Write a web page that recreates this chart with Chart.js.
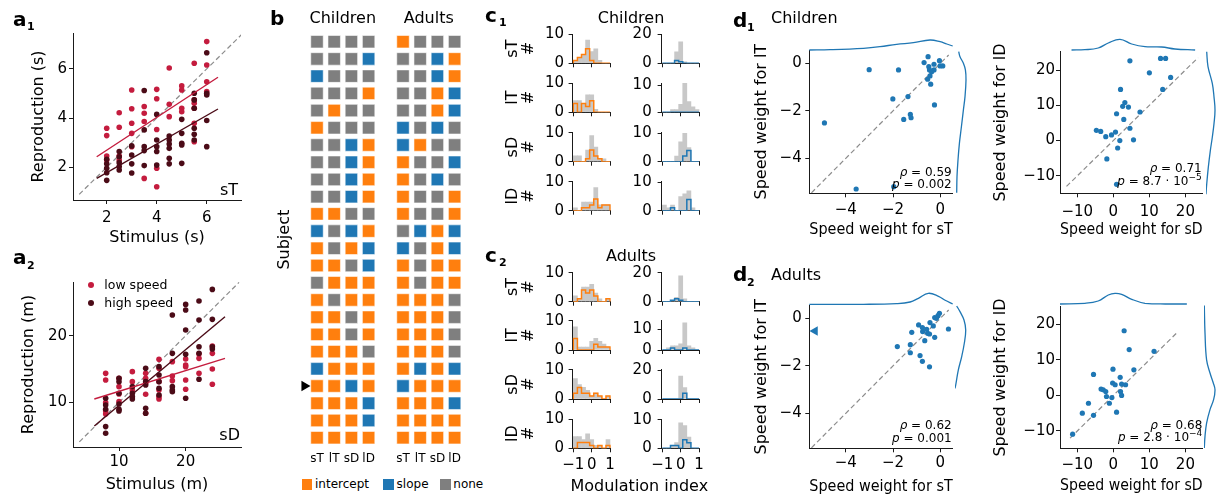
<!DOCTYPE html>
<html>
<head>
<meta charset="utf-8">
<script src="https://cdn.jsdelivr.net/npm/chart.js@4.4.1/dist/chart.umd.min.js"></script>
<style>
  html, body { margin: 0; padding: 0; background: #fff; }
  body { position: relative; width: 1225px; height: 496px; overflow: hidden; font-family: "DejaVu Sans", sans-serif; }
  canvas { position: absolute; }
  .t { position: absolute; white-space: nowrap; line-height: 1; color: #000; }
  .sw { position: absolute; }
  sup { font-size: 9px; vertical-align: 5px; line-height: 0; }
</style>
</head>
<body>
<script>
// ---------- data ----------

// a1: duration (sT), one list of reproductions per stimulus
const a1Stimulus = [2, 2.5, 3, 3.5, 4, 4.5, 5, 5.5, 6];
const a1LowSpeed = [
  [3.59, 3.29, 2.46, 2.30],
  [4.22, 3.63, 2.46, 2.30],
  [5.14, 4.38, 3.79, 3.38, 2.84],
  [4.47, 4.20, 3.86, 1.55],
  [5.17, 4.79, 3.54, 1.96, 1.21],
  [6.04, 4.56, 4.06],
  [5.31, 5.14, 4.40, 4.26],
  [6.23, 4.74, 4.60, 4.40, 3.79, 3.04],
  [7.11, 6.16, 5.48, 5.08]
];
const a1HighSpeed = [
  [2.33, 2.14, 1.96, 1.78, 1.47],
  [2.64, 2.43, 2.19, 2.03, 1.89],
  [2.87, 2.50, 2.14, 1.77],
  [5.12, 3.52, 2.84, 2.68, 2.07],
  [4.15, 3.11, 2.84, 2.64, 2.09],
  [3.27, 3.11, 2.95, 2.77, 2.37, 2.14],
  [3.95, 3.38, 2.98, 2.91, 2.16],
  [5.01, 4.74, 4.40, 3.59, 3.34, 3.11],
  [6.66, 5.01, 4.94, 3.90, 2.84]
];
const a1FitLow = [[1.6, 2.43], [6.45, 5.66]];
const a1FitHigh = [[1.6, 1.55], [6.45, 4.37]];
const a1Identity = [0.9, 7.4];
const a1Ticks = [2, 4, 6];

// a2: distance (sD)
const a2Stimulus = [8, 10, 12, 14, 16, 18, 20, 22, 24];
const a2LowSpeed = [
  [14.35, 13.35, 9.95, 8.70, 8.25],
  [13.60, 12.35, 11.25, 10.10],
  [14.60, 13.10, 11.85],
  [14.35, 13.60, 12.85, 11.20, 8.35],
  [16.45, 15.10, 13.10, 11.85, 10.85, 10.50],
  [16.10, 13.95, 13.25],
  [16.50, 15.60, 15.35, 13.35, 11.95],
  [17.25, 16.60, 14.35],
  [18.45, 17.35, 15.00, 12.70]
];
const a2HighSpeed = [
  [10.60, 9.60, 8.95, 6.35, 5.35],
  [13.60, 13.10, 11.35, 9.75, 8.95, 8.70],
  [12.35, 11.35, 10.85, 10.50],
  [15.10, 13.10, 12.60, 9.10, 8.35],
  [15.35, 14.10, 13.10, 12.10, 11.10],
  [23.10, 17.35, 12.35, 11.85, 11.60],
  [24.70, 23.85, 20.85, 17.20, 10.60],
  [25.20, 22.35, 18.35, 17.35, 13.45],
  [26.95, 22.45, 18.35, 18.00]
];
const a2FitLow = [[6.3, 10.5], [25.9, 16.6]];
const a2FitHigh = [[6.3, 6.45], [25.9, 22.85]];
const a2Identity = [4.05, 28];
const a2Ticks = [10, 20];

// b: significant term per subject (I = intercept, S = slope, N = none), columns sT lT sD lD
const fitTerms = ['sT', 'lT', 'sD', 'lD'];
const groupNames = ['Children', 'Adults'];
const subjectsChildren = ['NNNN', 'NNNS', 'SNNN', 'NNNI', 'NINN', 'INNN', 'NNSI', 'NNSI', 'NNSI', 'NNSI',
  'IINN', 'SNSI', 'INIS', 'IINS', 'NIII', 'INII', 'IINI', 'IINI', 'IIIN', 'SIII', 'IISI', 'IIIS', 'IIIS', 'IIII'];
const subjectsAdults = ['INNN', 'NNSI', 'NNSI', 'NNIS', 'NNIS', 'SNSN', 'SINN', 'INNS', 'INSN', 'INNI',
  'INNI', 'NSIS', 'SNIS', 'INII', 'INII', 'IIIN', 'IIIN', 'IIIN', 'IIIN', 'ISIS', 'SIII', 'IIIS', 'IIII', 'IIII'];
const termKinds = ['I', 'S', 'N'];
const termNames = { I: 'intercept', S: 'slope', N: 'none' };
const highlightedSubject = 20;

// c: modulation-index histograms, 9 bins on [-1, 1], rows sT lT sD lD
const binEdges = [-1, -0.778, -0.556, -0.333, -0.111, 0.111, 0.333, 0.556, 0.778, 1];
const childInterceptAll = [[1, 2, 3, 8, 4, 5, 1, 0, 0], [4, 4, 3, 6, 6, 1, 0, 0, 0], [2, 2, 0, 4, 9, 5, 1, 1, 0], [1, 0, 3, 3, 3, 8, 2, 2, 2]];
const childInterceptSig = [[1, 2, 3, 5, 1, 0, 0, 0, 0], [3, 0, 3, 2, 4, 0, 0, 0, 0], [0, 0, 0, 1, 4, 2, 1, 0, 0], [0, 0, 1, 1, 2, 4, 1, 2, 2]];
const childSlopeAll = [[0, 0, 0, 8, 15, 1, 0, 0, 0], [0, 0, 1, 1, 3, 12, 4, 2, 1], [0, 0, 0, 2, 7, 10, 5, 0, 0], [2, 1, 2, 0, 5, 6, 7, 1, 0]];
const childSlopeSig = [[0, 0, 0, 2, 1, 0, 0, 0, 0], [0, 0, 0, 0, 0, 0, 0, 0, 0], [0, 0, 0, 0, 0, 2, 4, 0, 0], [0, 0, 1, 0, 0, 0, 4, 0, 0]];
const adultInterceptAll = [[2, 1, 5, 5, 6, 3, 1, 0, 1], [8, 1, 1, 1, 3, 4, 3, 2, 1], [7, 5, 4, 3, 1, 2, 1, 0, 1], [4, 4, 3, 5, 3, 1, 1, 0, 3]];
const adultInterceptSig = [[0, 1, 4, 3, 4, 2, 0, 0, 1], [4, 0, 0, 0, 0, 2, 1, 1, 1], [2, 4, 2, 2, 1, 2, 1, 0, 1], [0, 2, 2, 2, 1, 0, 1, 0, 1]];
const adultSlopeAll = [[0, 0, 1, 3, 18, 2, 0, 0, 0], [0, 1, 2, 2, 3, 13, 2, 1, 0], [0, 0, 0, 0, 16, 8, 0, 0, 0], [0, 0, 1, 2, 9, 8, 4, 0, 0]];
const adultSlopeSig = [[0, 0, 1, 2, 1, 0, 0, 0, 0], [0, 0, 1, 0, 0, 1, 0, 0, 0], [0, 0, 0, 0, 0, 4, 0, 0, 0], [0, 0, 1, 1, 0, 3, 2, 0, 0]];
const histTicks = [-1, 0, 1];
const interceptYMax = 10.1;
const childSlopeYMax = [20.4, 10.9, 10.35, 10.35];
const adultSlopeYMax = [20.4, 14, 20.4, 10.35];
const childSlopeYTicks = [[0, 20], [0, 10], [0, 10], [0, 10]];
const adultSlopeYTicks = [[0, 20], [0, 10], [0, 20], [0, 10]];

// d: speed weights per subject
const dChildST = [-0.52, -0.69, -0.49, -0.46, -0.27, -0.04, -0.01, 0.10, -0.27, -0.37, -0.44, -0.54, -0.41,
  -3.01, -1.77, -2.01, -1.37, -1.27, -1.24, -1.55, -0.25, -4.90, -3.56, -1.97];
const dChildLT = [0.28, 0.03, -0.14, -0.28, -0.04, 0.11, -0.11, -0.11, -0.28, -0.35, -0.53, -0.67, -0.88,
  -0.27, -0.28, -1.50, -1.40, -2.15, -2.29, -2.36, -1.75, -2.51, -5.29, -5.19];
const dChildSD = [4.6, 13.1, 14.5, 10.0, 15.9, 13.7, 2.0, 3.2, 2.6, 4.2, 0.9, 7.4, 2.9, -4.7, -3.5, -2.1, -0.5, 0.6, 4.6, 1.8, 5.6, 1.2, -1.8, 0.9];
const dChildLD = [22.6, 23.3, 23.3, 19.2, 17.9, 14.5, 14.5, 10.8, 9.7, 9.5, 7.6, 8.1, 6.0, 2.9, 2.6, 1.1, 1.6, 2.4, 3.5, 0.0, 0.2, -2.1, -5.2, -12.4];
const dAdultST = [-0.04, -0.10, -0.24, -0.17, -0.44, -0.30, -0.92, -0.76, -0.75, -0.58, -0.54, -0.46, -1.21, -0.66, -0.24, 0.34,
  -1.82, -1.27, -1.27, -0.86, -0.76, -0.46];
const dAdultLT = [0.21, 0.11, 0.03, 0.00, -0.18, -0.32, -0.28, -0.39, -0.56, -0.46, -0.63, -0.66, -0.59, -0.94, -0.80, -0.45,
  -1.19, -1.11, -1.45, -1.57, -1.81, -2.04];
const dAdultOutlier = [-5.3, -0.53];
const dAdultSD = [3.0, 4.4, 11.3, -0.1, 5.7, -5.5, 1.9, -0.2, 0.5, 2.3, 3.4, -3.4, -2.8, -2.1, -1.9, 2.0, 2.3, -0.4, -6.9, -1.1, -8.6, -5.5, 0.9, -11.3];
const dAdultLD = [18.2, 12.9, 12.4, 7.4, 7.2, 5.9, 5.1, 3.5, 3.0, 3.2, 3.0, 1.8, 1.6, 1.1, -0.3, 1.1, 0.0, -0.6, -2.2, -2.2, -5.0, -5.6, -4.7, -10.9];
const timeTicks = [-4, -2, 0];
const distTicks = [-10, 0, 10, 20];

// marginal density curves (value, density)
const kdeChildSTx = [-5.54, -4.66, -3.25, -2.55, -1.85, -1.14, -0.44, -0.01, 0.27, 0.52];
const kdeChildSTd = [0, 0.3, 1.7, 3.3, 5.7, 7.3, 10, 8.3, 6, 4];
const kdeChildLTy = [0.49, 0.28, 0, -0.28, -0.7, -1.4, -1.96, -2.67, -3.37, -4.07, -4.77, -5.45];
const kdeChildLTd = [2, 3.3, 6.7, 8.7, 9.3, 8.3, 6.7, 4.7, 2.7, 1.3, 0.3, 0];
const kdeChildSDx = [-11.6, -7.9, -4.2, -1.4, 1.85, 5.1, 8.8, 13.4, 17.1, 22.7];
const kdeChildSDd = [0, 0.3, 2, 7, 10.7, 6, 3.3, 3, 1, 0];
const kdeChildLDy = [25.2, 21, 16.2, 12.4, 8.6, 4.8, 0.95, -2.9, -7.6, -12.4, -15.2];
const kdeChildLDd = [0.7, 2, 6.3, 8, 9, 8, 6.3, 4.3, 2.3, 0.7, 0];
const kdeAdultSTx = [-5.54, -3.25, -1.85, -1.28, -0.93, -0.51, -0.08, 0.2, 0.52];
const kdeAdultSTd = [0, 0, 0.7, 2.3, 6, 11, 8, 4, 0.3];
const kdeAdultLTy = [0.52, 0.28, -0.07, -0.49, -1.05, -1.61, -2.18, -2.74, -2.95];
const kdeAdultLTd = [1.7, 5, 9, 10.7, 9.3, 6.7, 3.3, 1, 0];
const kdeAdultSDx = [-14.8, -7.9, -4.2, -1.4, 0.46, 2.3, 5.1, 8.8, 14.4, 20.4];
const kdeAdultSDd = [0, 0.7, 3, 9, 10.7, 9.7, 4.7, 0.7, 0, 0];
const kdeAdultLDy = [25.3, 17.6, 10, 6.3, 3.5, 1.6, -1.2, -4, -7.8, -11.5, -14.8];
const kdeAdultLDd = [0, 0.7, 2.3, 5.7, 9, 10.7, 9.3, 5.7, 2.3, 0.7, 0];

// ---------- styling / helpers ----------
const INK = '#1a1a1a';
const RED = '#c41c3e', MAROON = '#4b0b17';
const ORANGE = '#ff7f0e', BLUE = '#1f77b4', GREY = '#7f7f7f', LIGHT = '#c8c8c8', DASH = '#8c8c8c';
const kindColors = { I: ORANGE, S: BLUE, N: GREY };
const TICK_SIZE = 15;

Chart.defaults.font.family = '"DejaVu Sans", sans-serif';
Chart.defaults.color = '#000';
Chart.defaults.animation = false;
Chart.defaults.responsive = false;
Chart.defaults.events = [];
Chart.defaults.plugins.legend.display = false;
Chart.defaults.plugins.tooltip.enabled = false;

const fmt = v => (v < 0 ? '\u2212' + (-v) : String(v));
const axisMeta = new WeakMap();

function axis(o) {
  const tl = o.tick ?? 4, size = o.size ?? TICK_SIZE, lh = o.lh ?? 1.2;
  const cfg = {
    type: 'linear', position: o.pos, min: o.min, max: o.max, reverse: !!o.reverse, offset: false,
    afterBuildTicks: s => { s.ticks = (o.ticks || []).map(v => ({ value: v })); },
    grid: { display: tl > 0, offset: false, drawOnChartArea: false, drawTicks: tl > 0, tickLength: tl, color: INK, lineWidth: 1 },
    border: { display: o.line !== false, color: INK, width: 1 },
    ticks: { display: o.labels !== false, font: { size }, color: '#000', autoSkip: false, maxRotation: 0, minRotation: 0,
             padding: 0, callback: o.fmt || fmt },
    title: o.title ? { display: true, text: o.title, color: '#000', font: { size: 16, lineHeight: lh }, padding: 0 }
                   : { display: false }
  };
  axisMeta.set(cfg, { tl, size, tickAt: o.tickAt, titleAt: o.titleAt, lh: 16 * lh });
  return cfg;
}

// area = chart area in page pixels [x0, y0, x1, y1]; pad = room around it for axes
function chartAt(area, pad, cfg) {
  const [x0, y0, x1, y1] = area;
  const L = Math.floor(x0 - pad.l), T = Math.floor(y0 - pad.t);
  const W = Math.ceil(x1 + pad.r) - L, H = Math.ceil(y1 + pad.b) - T;
  const p = { l: x0 - L, t: y0 - T, r: L + W - x1, b: T + H - y1 };
  const cv = document.createElement('canvas');
  cv.width = W; cv.height = H;
  Object.assign(cv.style, { left: L + 'px', top: T + 'px', width: W + 'px', height: H + 'px' });
  document.body.appendChild(cv);

  const used = {};
  for (const s of Object.values(cfg.options.scales)) {
    if (s.display === false) continue;
    const pos = s.position;
    used[pos] = true;
    const m = axisMeta.get(s);
    if (m) {
      const tlh = m.size * 1.2;
      if (m.tickAt != null) {
        let pd;
        if (pos === 'bottom') pd = m.tickAt - y1 - m.tl - tlh / 2;
        else if (pos === 'top') pd = y0 - m.tl - tlh / 2 - m.tickAt;
        else pd = x0 - m.tl - m.tickAt;
        s.ticks.padding = Math.max(0, pd);
      }
      if (m.titleAt != null) {
        if (pos === 'left') s.title.padding = { top: Math.max(0, m.titleAt - L - m.lh / 2), bottom: 0 };
        else s.title.padding = { top: 0, bottom: Math.max(0, T + H - m.titleAt - m.lh / 2) };
      }
    }
    s.afterFit = sc => {
      if (pos === 'left') sc.width = p.l;
      else if (pos === 'bottom') sc.height = p.b;
      else if (pos === 'top') sc.height = p.t;
      sc.paddingLeft = sc.paddingRight = sc.paddingTop = sc.paddingBottom = 0;
    };
  }
  cfg.options.devicePixelRatio = 1;
  cfg.options.layout = { padding: { left: used.left ? 0 : p.l, right: p.r, top: used.top ? 0 : p.t, bottom: used.bottom ? 0 : p.b } };
  return new Chart(cv, cfg);
}

function txt(html, x, y, o = {}) {
  const d = document.createElement('div');
  d.className = 't';
  d.innerHTML = html;
  d.style.left = x + 'px';
  d.style.top = y + 'px';
  d.style.fontSize = (o.size || 16) + 'px';
  if (o.bold) d.style.fontWeight = 'bold';
  const ax = { left: '0%', center: '-50%', right: '-100%' }[o.align || 'left'];
  d.style.transform = `translate(${ax}, -50%)`;
  document.body.appendChild(d);
}

function swatch(x, y, w, h, color, round) {
  const d = document.createElement('div');
  d.className = 'sw';
  Object.assign(d.style, { left: x + 'px', top: y + 'px', width: w + 'px', height: h + 'px', background: color,
    borderRadius: round ? '50%' : '0' });
  document.body.appendChild(d);
}

function panelLabel(letter, sub, x, y) {
  txt(letter, x, y, { size: 20, bold: true });
  if (sub) txt(sub, x + 14, y + 7.5, { size: 11, bold: true });
}

const seg = f => f.map(([x, y]) => ({ x, y }));
const diag = r => [{ x: r[0], y: r[0] }, { x: r[1], y: r[1] }];

// ---------- a ----------
function reproPanel(area, xr, yr, ticks, stim, low, high, fitLow, fitHigh, ident, labels, at) {
  const pts = rows => stim.flatMap((s, i) => rows[i].map(v => ({ x: s, y: v })));
  chartAt(area, { l: 73, r: 12, t: 10, b: at.padB }, {
    type: 'scatter',
    data: { datasets: [
      { data: seg(fitHigh), showLine: true, borderColor: MAROON, borderWidth: 1.4, pointRadius: 0 },
      { data: seg(fitLow), showLine: true, borderColor: RED, borderWidth: 1.4, pointRadius: 0 },
      { data: pts(high), pointRadius: 2.8, pointBackgroundColor: MAROON, backgroundColor: MAROON, pointBorderWidth: 0 },
      { data: pts(low), pointRadius: 2.8, pointBackgroundColor: RED, backgroundColor: RED, pointBorderWidth: 0 },
      { data: diag(ident), showLine: true, borderColor: DASH, borderDash: [5, 3], borderWidth: 1.2, pointRadius: 0 }
    ] },
    options: { scales: {
      x: axis({ pos: 'bottom', min: xr[0], max: xr[1], ticks, title: labels[0], tickAt: at.xTick, titleAt: at.xTitle }),
      y: axis({ pos: 'left', min: yr[0], max: yr[1], ticks, title: labels[1], tickAt: at.yTick, titleAt: at.yTitle })
    } }
  });
}

reproPanel([73, 33, 241, 200], [0.652, 7.37], [0.671, 7.46], a1Ticks, a1Stimulus, a1LowSpeed, a1HighSpeed,
  a1FitLow, a1FitHigh, a1Identity, ['Stimulus (s)', 'Reproduction (s)'],
  { padB: 50, xTick: 218.3, xTitle: 238, yTick: 67, yTitle: 39 });
reproPanel([73, 282, 241, 447], [3.1, 28.3], [3.29, 28.06], a2Ticks, a2Stimulus, a2LowSpeed, a2HighSpeed,
  a2FitLow, a2FitHigh, a2Identity, ['Stimulus (m)', 'Reproduction (m)'],
  { padB: 49, xTick: 462.3, xTitle: 485, yTick: 67, yTitle: 29 });

panelLabel('a', '1', 13, 18.6);
panelLabel('a', '2', 13, 257);
txt('sT', 238, 190, { align: 'right' });
txt('sD', 240, 435, { align: 'right' });
swatch(87.7, 282, 6, 6, RED, true);
swatch(87.7, 300.3, 6, 6, MAROON, true);
txt('low speed', 104.3, 285, { size: 12.5 });
txt('high speed', 104.3, 303.3, { size: 12.5 });

// ---------- b ----------
(() => {
  const groups = [subjectsChildren, subjectsAdults];
  const colX = (g, c) => g * 5 + c;
  const datasets = termKinds.map(k => ({
    label: termNames[k],
    data: groups.flatMap((rows, g) => rows.flatMap((row, r) =>
      [...row].map((t, c) => (t === k ? { x: colX(g, c), y: r } : null)).filter(Boolean))),
    pointStyle: 'rect', pointRadius: 8.8, pointBackgroundColor: kindColors[k], backgroundColor: kindColors[k],
    pointBorderColor: 'rgba(255,255,255,0.55)', pointBorderWidth: 1
  }));
  datasets.unshift({
    data: [{ x: -0.73, y: highlightedSubject }], pointStyle: 'triangle', pointRotation: 90, pointRadius: 6,
    pointBackgroundColor: '#000', backgroundColor: '#000', pointBorderWidth: 0, clip: false
  });
  const colTicks = [0, 1, 2, 3, 5, 6, 7, 8];
  chartAt([308.4, 33.1, 463.2, 446.3], { l: 38.4, r: 10, t: 33.1, b: 25 }, {
    type: 'scatter',
    data: { datasets },
    options: { scales: {
      x: axis({ pos: 'bottom', min: -0.5, max: 8.5, ticks: colTicks, tick: 0, line: false, size: 12, tickAt: 459.3,
                fmt: v => fitTerms[Math.round(v) % 5] }),
      xTop: axis({ pos: 'top', min: -0.5, max: 8.5, ticks: [1.5, 6.5], tick: 0, line: false, size: 16, tickAt: 19,
                   fmt: v => groupNames[v < 4 ? 0 : 1] }),
      y: axis({ pos: 'left', min: -0.5, max: 23.5, reverse: true, ticks: [], tick: 0, line: false, labels: false,
                title: 'Subject', titleAt: 285 })
    } }
  });
})();
panelLabel('b', '', 270, 18.2);
// legend
const bLegendX = [301.7, 383.3, 440];
termKinds.forEach((k, i) => {
  swatch(bLegendX[i], 479.3, 10.6, 10.6, kindColors[k]);
  txt(termNames[k], bLegendX[i] + 13.3, 484.3, { size: 12 });
});

// ---------- c ----------
const C_W = 38.2, C_H = 29.3;
const childZeroY = [63.3, 112.3, 161.7, 210.7];
const adultZeroY = [301.7, 350, 399, 448.3];

function histPanel(x0, zeroY, yMax, yTicks, all, sig, color, o) {
  const centers = binEdges.slice(0, -1).map((e, i) => (e + binEdges[i + 1]) / 2);
  const step = [{ x: binEdges[0], y: 0 }, ...sig.map((h, i) => ({ x: binEdges[i], y: h })),
                { x: binEdges[binEdges.length - 1], y: 0 }];
  chartAt([x0, zeroY - C_H, x0 + C_W, zeroY], { l: o.padL, r: 8, t: 9, b: o.bottom ? 30 : 6 }, {
    type: 'bar',
    data: { datasets: [
      { type: 'line', data: step, stepped: 'before', borderColor: color, borderWidth: 1.5, pointRadius: 0, fill: false },
      { type: 'bar', data: all.map((h, i) => ({ x: centers[i], y: h })), backgroundColor: LIGHT, borderWidth: 0,
        barPercentage: 1, categoryPercentage: 1 }
    ] },
    options: { scales: {
      x: axis({ pos: 'bottom', min: -1.04, max: 1.04, ticks: histTicks, labels: !!o.bottom, tickAt: 465 }),
      y: axis({ pos: 'left', min: 0, max: yMax, ticks: yTicks, title: o.title, lh: 1, titleAt: 513.3, tickAt: o.tickAt })
    } }
  });
}

fitTerms.forEach((v, i) => {
  histPanel(572.6, childZeroY[i], interceptYMax, [0, 10], childInterceptAll[i], childInterceptSig[i], ORANGE,
    { padL: 72.6, title: [v, '#'], tickAt: 564 });
  histPanel(661.6, childZeroY[i], childSlopeYMax[i], childSlopeYTicks[i], childSlopeAll[i], childSlopeSig[i], BLUE,
    { padL: 41.6, tickAt: 651.7 });
  histPanel(572.6, adultZeroY[i], interceptYMax, [0, 10], adultInterceptAll[i], adultInterceptSig[i], ORANGE,
    { padL: 72.6, title: [v, '#'], tickAt: 564, bottom: i === 3 });
  histPanel(661.6, adultZeroY[i], adultSlopeYMax[i], adultSlopeYTicks[i], adultSlopeAll[i], adultSlopeSig[i], BLUE,
    { padL: 41.6, tickAt: 651.7, bottom: i === 3 });
});
panelLabel('c', '1', 485, 14.6);
panelLabel('c', '2', 485, 254.6);
txt('Children', 631, 18.3, { align: 'center' });
txt('Adults', 631, 256, { align: 'center' });
txt('Modulation index', 639.3, 485.7, { align: 'center' });

// ---------- d ----------
function weightPanel(area, padB, xr, yr, ticks, xs, ys, ident, labels, at, outlier) {
  const datasets = [
    { data: xs.map((x, i) => ({ x, y: ys[i] })), pointRadius: 2.6, pointBackgroundColor: BLUE, backgroundColor: BLUE, pointBorderWidth: 0 },
    { data: diag(ident), showLine: true, borderColor: DASH, borderDash: [5, 3], borderWidth: 1.2, pointRadius: 0 }
  ];
  if (outlier) datasets.unshift({ data: [{ x: outlier[0], y: outlier[1] }], pointStyle: 'triangle', pointRotation: 270,
    pointRadius: 5.5, pointBackgroundColor: BLUE, backgroundColor: BLUE, pointBorderWidth: 0, clip: false });
  chartAt(area, { l: area[0] - at.canvasL, r: 8, t: 10, b: padB }, {
    type: 'scatter',
    data: { datasets },
    options: { scales: {
      x: axis({ pos: 'bottom', min: xr[0], max: xr[1], ticks, title: labels[0], tickAt: at.xTick, titleAt: at.xTitle }),
      y: axis({ pos: 'left', min: yr[0], max: yr[1], ticks, title: labels[1], tickAt: at.yTick, titleAt: at.yTitle })
    } }
  });
}

function kdeLine(area, xr, yr, pts) {
  chartAt(area, { l: 0, r: 0, t: 2, b: 2 }, {
    type: 'scatter',
    data: { datasets: [{ data: pts, showLine: true, borderColor: BLUE, borderWidth: 1.3, pointRadius: 0, tension: 0.4, clip: false }] },
    options: { scales: {
      x: { type: 'linear', display: false, min: xr[0], max: xr[1] },
      y: { type: 'linear', display: false, min: yr[0], max: yr[1] }
    } }
  });
}
const kdeTop = (x0, x1, base, xr, xs, ds) => kdeLine([x0, base - 14, x1, base], xr, [0, 14], xs.map((x, i) => ({ x, y: ds[i] })));
const kdeSide = (x0, y0, y1, yr, ys, ds) => kdeLine([x0, y0, x0 + 15, y1], [0, 15], yr, ys.map((y, i) => ({ x: ds[i], y })));

const tXR = [-5.54, 0.52], tYR = [-5.47, 0.56];
const d1dXR = [-14.8, 24.8], d1dYR = [-14.95, 25.2];
const d2dXR = [-14.8, 24.8], d2dYR = [-14.87, 24.96];

weightPanel([809.3, 50, 952.7, 193.3], 50, tXR, tYR, timeTicks, dChildST, dChildLT, [-5.45, 0.35],
  ['Speed weight for sT', 'Speed weight for lT'], { canvasL: 740, xTick: 210, xTitle: 230, yTick: 801.7, yTitle: 761.7 });
weightPanel([1060, 51.7, 1202.7, 193.3], 50, d1dXR, d1dYR, distTicks, dChildSD, dChildLD, [-13, 23.5],
  ['Speed weight for sD', 'Speed weight for lD'], { canvasL: 980, xTick: 211.7, xTitle: 230, yTick: 1055, yTitle: 1001 });
weightPanel([809.3, 305, 952.7, 448.3], 47.7, tXR, tYR, timeTicks, dAdultST, dAdultLT, [-5.45, 0.35],
  ['Speed weight for sT', 'Speed weight for lT'], { canvasL: 740, xTick: 463.3, xTitle: 486.7, yTick: 801.7, yTitle: 761.7 },
  dAdultOutlier);
weightPanel([1060, 306.7, 1202.7, 448.3], 47.7, d2dXR, d2dYR, distTicks, dAdultSD, dAdultLD, [-12, 18],
  ['Speed weight for sD', 'Speed weight for lD'], { canvasL: 980, xTick: 465, xTitle: 485.7, yTick: 1055, yTitle: 1001 });

kdeTop(809.3, 952.7, 50, tXR, kdeChildSTx, kdeChildSTd);
kdeSide(956.7, 50, 193.3, tYR, kdeChildLTy, kdeChildLTd);
kdeTop(1060, 1202.7, 50, d1dXR, kdeChildSDx, kdeChildSDd);
kdeSide(1206, 51.7, 193.3, d1dYR, kdeChildLDy, kdeChildLDd);
kdeTop(809.3, 952.7, 304.3, tXR, kdeAdultSTx, kdeAdultSTd);
kdeSide(955, 305, 448.3, tYR, kdeAdultLTy, kdeAdultLTd);
kdeTop(1060, 1202.7, 304, d2dXR, kdeAdultSDx, kdeAdultSDd);
kdeSide(1204.3, 306.7, 448.3, d2dYR, kdeAdultLDy, kdeAdultLDd);

panelLabel('d', '1', 733, 19.5);
panelLabel('d', '2', 733, 274);
txt('Children', 771, 18.3);
txt('Adults', 771, 275);

function stat(xr, y, rho, p) {
  txt('<i>\u03c1</i> = ' + rho, xr, y, { size: 12, align: 'right' });
  txt('<i>p</i> = ' + p, xr, y + 12.5, { size: 12, align: 'right' });
}
stat(951.7, 171.5, '0.59', '0.002');
stat(1201.7, 168, '0.71', '8.7 \u00b7 10<sup>\u22125</sup>');
stat(951.7, 425, '0.62', '0.001');
stat(1202.3, 424.5, '0.68', '2.8 \u00b7 10<sup>\u22124</sup>');
</script>
</body>
</html>
